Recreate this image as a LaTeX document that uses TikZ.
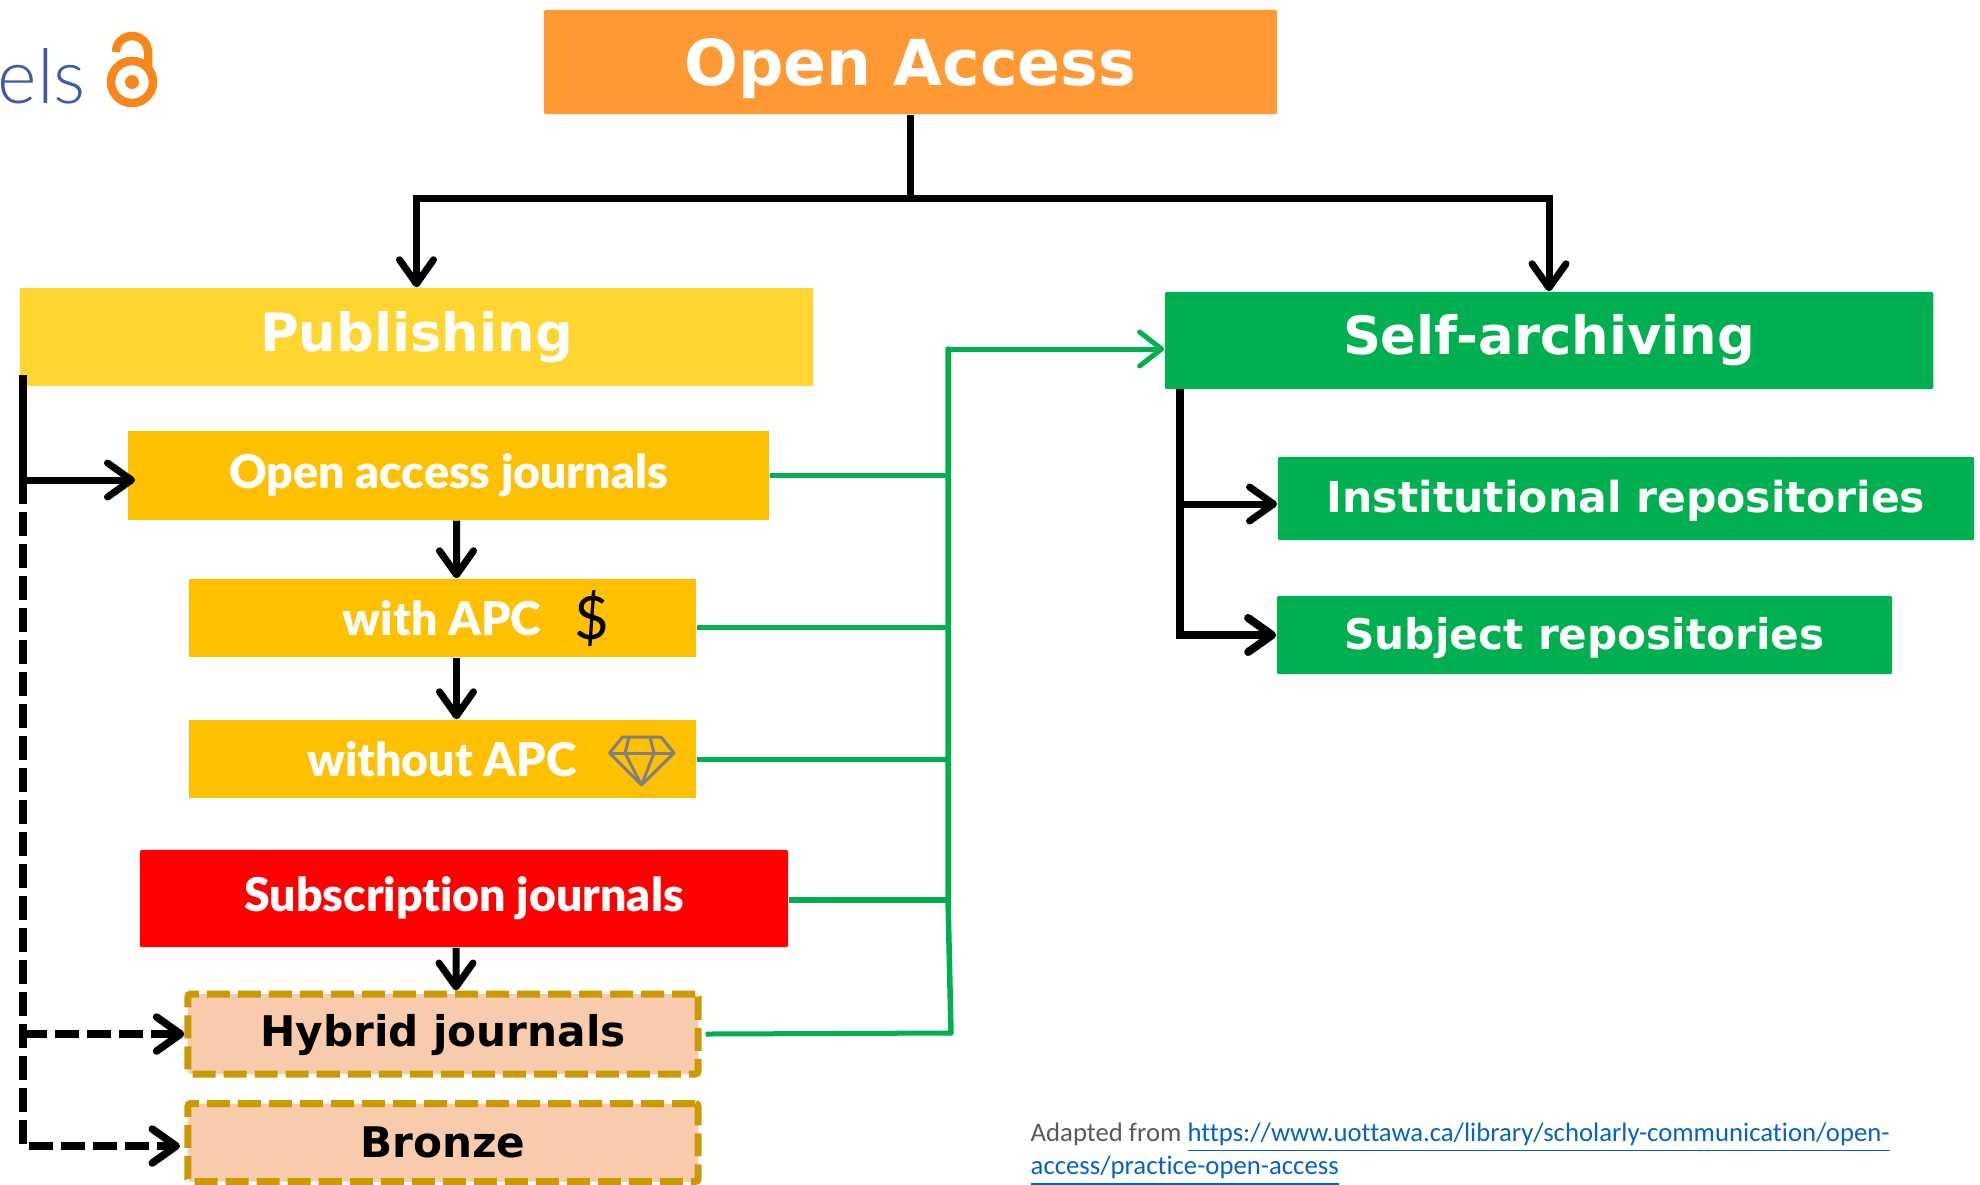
\documentclass[tikz,border=0pt]{standalone}
\usepackage{fontspec}
\setmainfont{DejaVu Sans}
\newfontfamily\gillfont[Ligatures=NoCommon,BoldFont={Lato Black}]{Lato}
\newfontfamily\logofont{Lato Light}
\newfontfamily\notefont[Ligatures=NoCommon]{Carlito}
\usetikzlibrary{arrows.meta}
\definecolor{headorange}{HTML}{FF9933}
\definecolor{pubyellow}{HTML}{FFD530}
\definecolor{journalamber}{HTML}{FFC000}
\definecolor{archgreen}{HTML}{00B050}
\definecolor{hybridfill}{HTML}{F7CBAC}
\definecolor{hybridedge}{HTML}{CC9900}
\definecolor{lockorange}{HTML}{F7861B}
\definecolor{logoblue}{HTML}{3F5AA8}
\definecolor{notegray}{HTML}{595959}
\definecolor{linkblue}{HTML}{0563C1}
\tikzset{
  box/.style={inner sep=0pt, text=white, font=\bfseries},
  journalbox/.style={box, fill=journalamber, font=\gillfont\bfseries\fontsize{13.2}{15}\selectfont},
  greenbox/.style={box, fill=archgreen, rounded corners=0.02cm},
  hybridbox/.style={box, fill=hybridfill, text=black, draw=hybridedge, line width=0.07cm,
    dash pattern=on 0.23cm off 0.08cm, rounded corners=0.03cm, font=\bfseries\fontsize{12}{14}\selectfont},
  blackarrow/.style={line width=0.07cm, black, -{Straight Barb[length=0.24cm,width=0.34cm,round]}},
  blackline/.style={line width=0.07cm, black},
  blackdash/.style={blackarrow, line width=0.075cm, dash pattern=on 0.24cm off 0.08cm},
  greenline/.style={line width=0.05cm, archgreen},
  greenarrow/.style={greenline, -{Straight Barb[length=0.22cm,width=0.34cm,round]}},
  gemline/.style={line width=0.03cm, gray, line join=round},
}
\begin{document}
\begin{tikzpicture}[x=0.01cm,y=-0.01cm]
  \useasboundingbox (0,0) rectangle (1980,1184);

  % Logo at the corner
  \node [anchor=base west, inner sep=0pt, text=logoblue, font=\logofont\fontsize{21.5}{23}\selectfont] (logotext) at (-3,103) {els};
  \draw [line width=0.085cm, lockorange] (116,52) arc (180:360:16) -- (148,68);
  \draw [line width=0.085cm, lockorange] (132,82) circle (21);
  \fill [lockorange] (132,82) circle (7);

  % Drawing the boxes
  \node [box, fill=headorange, rounded corners=0.02cm, minimum width=7.33cm, minimum height=1.04cm, text depth=0pt, font=\bfseries\fontsize{18}{20}\selectfont] (openaccess) at (910.5,62) {Open Access};
  \node [box, fill=pubyellow, minimum width=7.93cm, minimum height=0.98cm, font=\bfseries\fontsize{15}{17}\selectfont] (publishing) at (416.5,337) {Publishing};
  \node [journalbox, minimum width=6.41cm, minimum height=0.89cm] (oajournals) at (448.5,475.5) {Open access journals};
  \node [journalbox, minimum width=5.07cm, minimum height=0.78cm] (withapc) at (442.5,618) {};
  \node [journalbox, minimum width=5.07cm, minimum height=0.78cm] (withoutapc) at (442.5,759) {};
  \node [box, fill=red, rounded corners=0.02cm, minimum width=6.48cm, minimum height=0.97cm, font=\gillfont\bfseries\fontsize{13.2}{15}\selectfont] (subscription) at (464,898.5) {Subscription journals};
  \node [hybridbox, minimum width=5.1cm, minimum height=0.8cm, text depth=0.08cm] (hybrid) at (443,1034) {Hybrid journals};
  \node [hybridbox, minimum width=5.1cm, minimum height=0.78cm] (bronze) at (443,1142.5) {Bronze};
  \node [greenbox, minimum width=7.68cm, minimum height=0.97cm, font=\bfseries\fontsize{15}{17}\selectfont] (selfarchiving) at (1549,340.5) {Self-archiving};
  \node [greenbox, minimum width=6.96cm, minimum height=0.83cm, text depth=0.05cm, font=\bfseries\fontsize{12.1}{14}\selectfont] (institutional) at (1626,498.5) {Institutional repositories};
  \node [greenbox, minimum width=6.15cm, minimum height=0.78cm, text depth=0.025cm, font=\bfseries\fontsize{12}{14}\selectfont] (subject) at (1584.5,635) {Subject repositories};

  % Marking the labels of the APC boxes
  \node [anchor=base, inner sep=0pt, text=white, font=\gillfont\bfseries\fontsize{13.2}{15}\selectfont] (withlabel) at (442,635) {with APC};
  \node [anchor=base, inner sep=0pt, text=white, font=\gillfont\bfseries\fontsize{13.2}{15}\selectfont] (withoutlabel) at (442,776) {without APC};
  \node [inner sep=0pt, text=black, font=\gillfont\fontsize{17}{19}\selectfont] (dollar) at (591.5,619) {\$};

  % Drawing the gem
  \draw [gemline] (622.5,737) -- (661,737) -- (674,753) -- (641.5,785) -- (609.5,753) -- cycle;
  \draw [gemline] (609.5,753) -- (674,753);
  \draw [gemline] (629,737) -- (625,753) -- (641.5,785) -- (654,753) -- (650,737);

  % Drawing line from head to both branches
  \coordinate (headjoin) at (910.5,198);
  \draw [blackline] (openaccess.south) -- (headjoin);
  \draw [blackarrow] (headjoin) -| (publishing.north);
  \draw [blackarrow] (headjoin) -| (selfarchiving.north);

  % Drawing line down the left side
  \coordinate (railtop) at (23,375);
  \coordinate (railmid) at (23,480);
  \coordinate (railhybrid) at (23,1034);
  \coordinate (railend) at (23,1146);
  \coordinate (oatip) at (135,480);
  \coordinate (bronzetip) at (180,1146);
  \draw [blackline] (railtop) -- (railmid);
  \draw [blackarrow] (railmid) -- (oatip);
  \draw [blackdash] (railmid) -- (railend) -- (bronzetip);
  \draw [blackdash] (railhybrid) -- (hybrid.west);

  % Drawing line between the journal boxes
  \draw [blackarrow] ([xshift=0.08cm]oajournals.south) -- ([xshift=0.14cm]withapc.north);
  \draw [blackarrow] ([xshift=0.14cm]withapc.south) -- ([xshift=0.14cm]withoutapc.north);
  \draw [blackarrow] ([xshift=-0.08cm]subscription.south) -- ([xshift=0.13cm]hybrid.north);

  % Drawing line of the green bus
  \coordinate (bustop) at (948,349);
  \coordinate (busend) at (951,1033);
  \draw [greenarrow] (bustop) -- (selfarchiving.west |- bustop);
  \draw [greenline, line width=0.055cm, line cap=round] (bustop) -- (948,900) -- (busend);
  \draw [greenline] (oajournals.east) -- ++(179,0);
  \draw [greenline] ([yshift=-0.09cm]withapc.east) -- ++(252,0);
  \draw [greenline] (withoutapc.east) -- ++(252,0);
  \draw [greenline, line width=0.06cm] ([yshift=-0.015cm]subscription.east) -- ++(160,0);
  \draw [greenline] ([xshift=0.04cm]hybrid.east) -- (busend);

  % Drawing line to the repositories
  \coordinate (archturn) at (1180,635);
  \coordinate (archjoin) at (1180,504);
  \coordinate (archtop) at (1180,389);
  \draw [blackarrow] (archjoin) -- (institutional.west |- archjoin);
  \draw [blackarrow, line width=0.08cm] (archtop) -- (archturn) -- (subject.west);

  % Marking the source note
  \node [anchor=north west, inner sep=0pt, align=left, text=notegray, font=\notefont\fontsize{7.6}{7.55}\selectfont] (sourcenote) at (1030,1122) {\lineskiplimit=-5pt\relax Adapted from \textcolor{linkblue}{\underline{https://www.uottawa.ca/library/scholarly-communication/open-}}\\\textcolor{linkblue}{\underline{access/practice-open-access}}};
\end{tikzpicture}
\end{document}
